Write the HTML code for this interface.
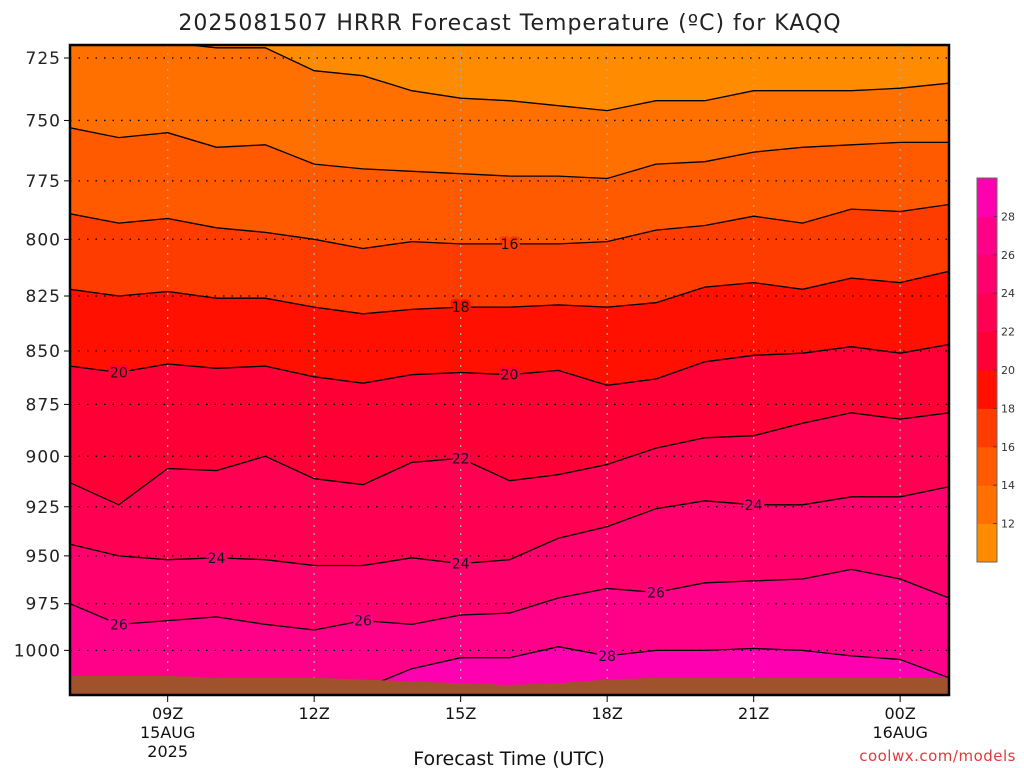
<!DOCTYPE html>
<html><head><meta charset="utf-8"><style>
html,body{margin:0;padding:0;background:#fff;width:1024px;height:768px;overflow:hidden}
svg text{font-family:"DejaVu Sans","Liberation Sans",sans-serif}
</style></head><body>
<svg id="chart" width="1024" height="768" viewBox="0 0 1024 768" xmlns="http://www.w3.org/2000/svg">
<text x="510" y="30" font-size="22" text-anchor="middle" fill="#222" letter-spacing="1">2025081507 HRRR Forecast Temperature (ºC) for KAQQ</text>
<g id="plot"></g>
<g id="axes"></g>
<g id="cbar"></g>
<text x="509" y="765" font-size="19" text-anchor="middle" fill="#111">Forecast Time (UTC)</text>
<text x="1016" y="761" font-size="15" text-anchor="end" fill="#e03a3a" letter-spacing="0.5">coolwx.com/models</text>
</svg>
<script>
const hours=[7,8,9,10,11,12,13,14,15,16,17,18,19,20,21,22,23,24,25];
const levels=[12,14,16,18,20,22,24,26,28];
const iso12=[718,718,719,721,721,730,732,738,741,742,744,746,742,742,738,738,738,737,735];
const iso14=[753,757,755,761,760,768,770,771,772,773,773,774,768,767,763,761,760,759,759];
const iso16=[789,793,791,795,797,800,804,801,802,802,802,801,796,794,790,793,787,788,785];
const iso18=[822,825,823,826,826,830,833,831,830,830,829,830,828,821,819,822,817,819,814];
const iso20=[857,860,856,858,857,862,865,861,860,861,859,866,863,855,852,851,848,851,847];
const iso22=[913,924,906,907,900,911,914,903,901,912,909,904,896,891,890,884,879,882,879];
const iso24=[944,950,952,951,952,955,955,951,954,952,941,935,926,922,924,924,920,920,915];
const iso26=[975,986,984,982,986,989,984,986,981,980,972,967,969,964,963,962,957,962,972];
const iso28=[1040,1040,1040,1040,1040,1040,1021,1010,1004,1004,998,1003,1000,1000,999,1000,1003,1005,1015];
const surfP=[1014,1014,1014,1015,1015,1015,1016,1017,1018,1019,1018,1016,1015,1015,1015,1015,1015,1015,1015];
const pTicks=[725,750,775,800,825,850,875,900,925,950,975,1000];
const xTickHours=[9,12,15,18,21,24];
const xTickLabels=[["09Z","15AUG","2025"],["12Z"],["15Z"],["18Z"],["21Z"],["00Z","16AUG"]];
const cbLabels=[12,14,16,18,20,22,24,26,28];
const labels=[[20,8],[20,16],[16,16],[18,15],[22,15],[24,10],[24,15],[24,21],[26,8],[26,13],[26,19],[28,18]];
const isos=[iso12,iso14,iso16,iso18,iso20,iso22,iso24,iso26,iso28];
const colors=["#ff8c00","#ff7000","#ff5a00","#ff3c00","#ff1000","#ff0036","#ff0052","#ff006c","#ff0088","#ff00b0"];
const L=70,R=949,T=45,B=695;
const xS=h=>L+(h-7)*(R-L)/18;
const yS=p=>58+1842*Math.log(p/725);
const NS="http://www.w3.org/2000/svg";
function mk(tag,attrs,parent){const e=document.createElementNS(NS,tag);for(const k in attrs)e.setAttribute(k,attrs[k]);parent.appendChild(e);return e;}
const plot=document.getElementById('plot');
const defs=mk('defs',{},plot);
const cp=mk('clipPath',{id:'clip'},defs);mk('rect',{x:L,y:T,width:R-L,height:B-T},cp);
const g=mk('g',{'clip-path':'url(#clip)'},plot);
const bg=mk('rect',{x:L,y:T,width:R-L,height:B-T,fill:colors[0]},g);


function pts(arr){return arr.map((p,i)=>xS(hours[i]).toFixed(1)+','+yS(p).toFixed(1));}
isos.forEach((arr,k)=>{
  const poly=mk('polygon',{points:pts(arr).join(' ')+' '+(R+5)+','+(B+50)+' '+(L-5)+','+(B+50),fill:colors[k+1]},g);
  
  
});
// grid
pTicks.forEach(p=>{const l=mk('line',{x1:L,x2:R,y1:yS(p),y2:yS(p),stroke:'#000','stroke-width':1.3,'stroke-dasharray':'1.5,7'},g);
});
xTickHours.forEach(h=>{const l=mk('line',{x1:xS(h),x2:xS(h),y1:T,y2:B,stroke:'#aaa','stroke-width':1.3,'stroke-dasharray':'2,6'},g);
});
isos.forEach((arr,k)=>{
  const pl=mk('polyline',{points:pts(arr).join(' '),fill:'none',stroke:'#000','stroke-width':1.3},g);
  
  
});
labels.forEach(([lev,h])=>{
  const k=levels.indexOf(lev);const i=hours.indexOf(h);
  const x=xS(h),y=yS(isos[k][i]);
  const t=mk('text',{x:x,y:y+5,'font-size':14,'text-anchor':'middle',fill:'#111',stroke:colors[k+1],'stroke-width':5,'paint-order':'stroke'},g);
  t.textContent=lev;
  
  
});
const gp=mk('polygon',{points:pts(surfP).join(' ')+' '+(R+5)+','+(B+10)+' '+(L-5)+','+(B+10),fill:'#a0522d'},g);


const fr=mk('rect',{x:L,y:T,width:R-L,height:B-T,fill:'none',stroke:'#000','stroke-width':2.5},plot);

const ax=document.getElementById('axes');
pTicks.forEach(p=>{
  const y=yS(p);
  const tk=mk('line',{x1:L-6,x2:L,y1:y,y2:y,stroke:'#000','stroke-width':1},ax);
  
  const t=mk('text',{x:L-9,y:y+6,'font-size':17,'text-anchor':'end',fill:'#222','letter-spacing':'1'},ax);
  t.textContent=p;
  
});
xTickHours.forEach((h,j)=>{
  const x=xS(h);
  const tk=mk('line',{x1:x,x2:x,y1:B,y2:B+7,stroke:'#000','stroke-width':1},ax);
  
  xTickLabels[j].forEach((s,r)=>{
    const t=mk('text',{x:x,y:B+24+r*19,'font-size':16,'text-anchor':'middle',fill:'#111'},ax);
    t.textContent=s;
    
  });
});
const cb=document.getElementById('cbar');
const cbT=178,cbB=562,cbX=977,cbW=20,bh=(cbB-cbT)/colors.length;
colors.forEach((c,i)=>{
  const r=mk('rect',{x:cbX,y:cbB-(i+1)*bh,width:cbW,height:bh+0.5,fill:c},cb);
  
});
const cbf=mk('rect',{x:cbX,y:cbT,width:cbW,height:cbB-cbT,fill:'none',stroke:'#666','stroke-width':1},cb);

cbLabels.forEach((v,i)=>{
  const y=cbB-(i+1)*bh;
  const tk=mk('line',{x1:cbX+cbW-4,x2:cbX+cbW,y1:y,y2:y,stroke:'#444'},cb);
  
  const t=mk('text',{x:cbX+cbW+4,y:y+4,'font-size':11,fill:'#333'},cb);
  t.textContent=v;
  
});
</script>
</body></html>
